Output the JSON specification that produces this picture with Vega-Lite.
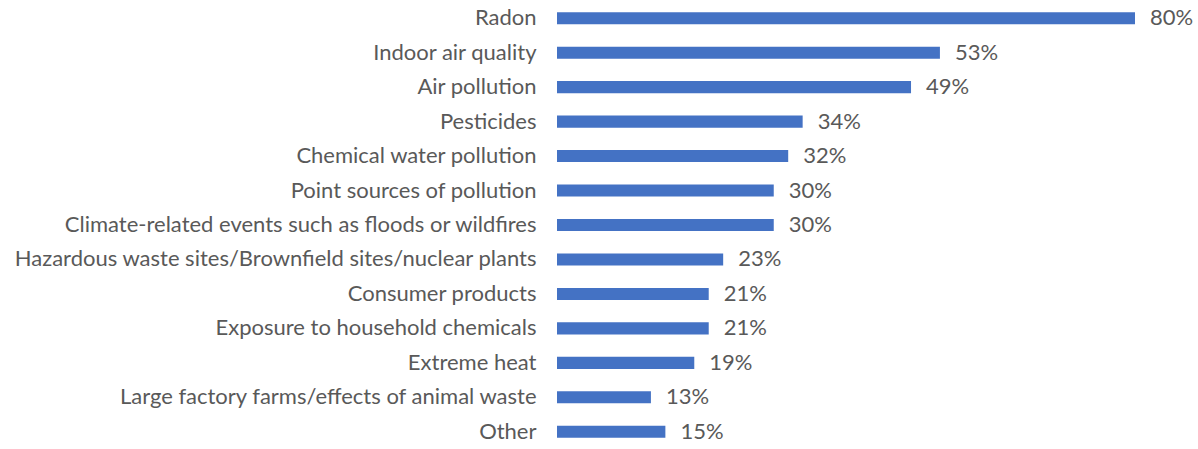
{
  "$schema": "https://vega.github.io/schema/vega-lite/v6.json",
  "autosize": {"type": "none"},
  "padding": {"left": 557, "top": 1, "right": 63, "bottom": 0},
  "width": 578,
  "height": 448,
  "background": "white",
  "config": {"view": {"stroke": null}, "font": "Lato"},
  "data": {"values": [
    {"category": "Radon", "value": 0.80},
    {"category": "Indoor air quality", "value": 0.53},
    {"category": "Air pollution", "value": 0.49},
    {"category": "Pesticides", "value": 0.34},
    {"category": "Chemical water pollution", "value": 0.32},
    {"category": "Point sources of pollution", "value": 0.30},
    {"category": "Climate-related events such as floods or wildfires", "value": 0.30},
    {"category": "Hazardous waste sites/Brownfield sites/nuclear plants", "value": 0.23},
    {"category": "Consumer products", "value": 0.21},
    {"category": "Exposure to household chemicals", "value": 0.21},
    {"category": "Extreme heat", "value": 0.19},
    {"category": "Large factory farms/effects of animal waste", "value": 0.13},
    {"category": "Other", "value": 0.15}
  ]},
  "encoding": {
    "y": {
      "field": "category", "type": "nominal", "sort": null,
      "scale": {"paddingInner": 0.65, "paddingOuter": 0.325},
      "axis": {"title": null, "domain": false, "ticks": false, "labelPadding": 21, "labelFontSize": 22, "labelColor": "#595959", "labelLimit": 0, "labelFont": "Lato"}
    },
    "x": {
      "field": "value", "type": "quantitative",
      "scale": {"domain": [0, 0.8], "nice": false},
      "axis": null
    }
  },
  "layer": [
    {"mark": {"type": "bar", "color": "#4472C4"}},
    {"mark": {"type": "text", "align": "left", "dx": 15, "fontSize": 22, "color": "#595959", "font": "Lato"},
     "encoding": {"text": {"field": "value", "type": "quantitative", "format": ".0%"}}}
  ]
}
